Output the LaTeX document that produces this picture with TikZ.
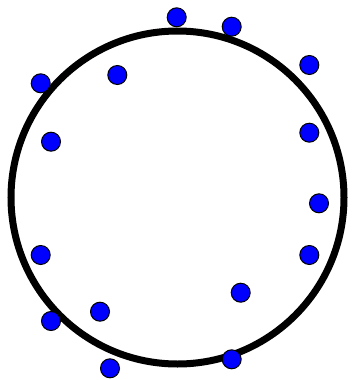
\documentclass[tikz,border=0pt]{standalone}
\begin{document}
\begin{tikzpicture}[x=1pt,y=-1pt,
  dot/.style={circle,draw=black,line width=1pt,fill=blue,minimum size=19pt,inner sep=0pt},
  ring/.style={circle,draw=black,line width=7pt,minimum size=333pt,inner sep=0pt}]
\useasboundingbox[fill=white] (0,0) rectangle (351,380);
\node[ring] (c) at (177.5,197.5) {};
\foreach \x/\y [count=\i] in {176.7/17.3, 231.7/26.7, 309.3/65, 40.7/83.3, 117.3/75,
  51/141.7, 309.3/132.7, 319/203.3, 40.7/255, 309.3/255, 240.7/292.7,
  100/311.7, 51/321, 231.7/359.3, 110/368.3}
  \node[dot] (p\i) at (\x,\y) {};
\end{tikzpicture}
\end{document}
